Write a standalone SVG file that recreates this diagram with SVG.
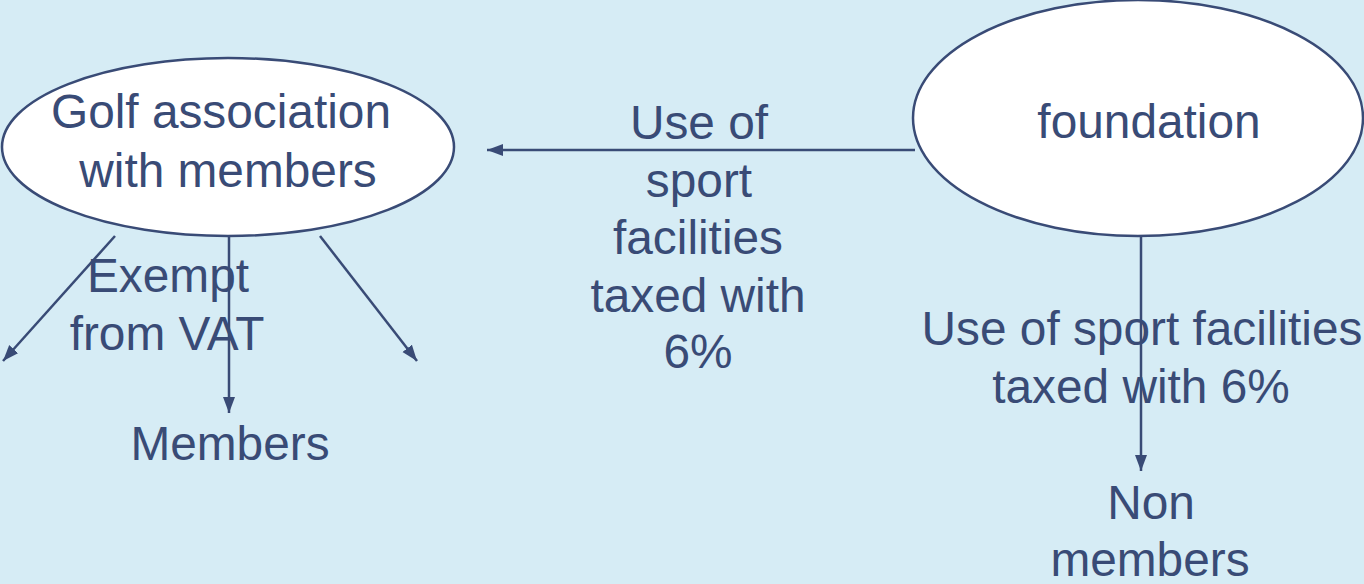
<svg xmlns="http://www.w3.org/2000/svg" width="1364" height="584" viewBox="0 0 1364 584">
<style>
.node{fill:#ffffff;stroke:#394B76;stroke-width:2.5}
.conn{stroke:#394B76;stroke-width:2.5;fill:none}
.t{font-family:"Liberation Sans",Arial,sans-serif;font-size:47.8px;fill:#394B76;text-anchor:middle}
</style>
<defs>
<marker id="arr" markerUnits="userSpaceOnUse" markerWidth="18" markerHeight="14" refX="16" refY="6" orient="auto">
<path d="M0,0 L16,6 L0,12 z" fill="#394B76"/>
</marker>
</defs>
<rect width="1364" height="584" fill="#D6ECF5"/>
<g id="connectors">
<line class="conn" x1="915" y1="150" x2="487" y2="150" marker-end="url(#arr)"/>
<line class="conn" x1="115" y1="236" x2="3" y2="361" marker-end="url(#arr)"/>
<line class="conn" x1="229" y1="236" x2="229" y2="413" marker-end="url(#arr)"/>
<line class="conn" x1="320" y1="236" x2="417" y2="361" marker-end="url(#arr)"/>
<line class="conn" x1="1141" y1="236" x2="1141" y2="471" marker-end="url(#arr)"/>
</g>
<g id="golf">
<ellipse class="node" cx="228" cy="147" rx="226" ry="89"/>
<text class="t" x="221" y="128">Golf association</text>
<text class="t" x="228" y="187">with members</text>
</g>
<g id="foundation">
<ellipse class="node" cx="1138" cy="118" rx="225" ry="118"/>
<text class="t" x="1149" y="138">foundation</text>
</g>
<g id="label-middle">
<text class="t" x="699" y="139">Use of</text>
<text class="t" x="699" y="197">sport</text>
<text class="t" x="698" y="254">facilities</text>
<text class="t" x="698" y="312">taxed with</text>
<text class="t" x="698" y="368">6%</text>
</g>
<g id="label-exempt">
<text class="t" x="168" y="292">Exempt</text>
<text class="t" x="167" y="350">from VAT</text>
</g>
<g id="members">
<text class="t" x="230" y="460">Members</text>
</g>
<g id="label-right">
<text class="t" x="1142" y="345">Use of sport facilities</text>
<text class="t" x="1141" y="403">taxed with 6%</text>
</g>
<g id="nonmembers">
<text class="t" x="1151" y="519">Non</text>
<text class="t" x="1150" y="576">members</text>
</g>
</svg>
